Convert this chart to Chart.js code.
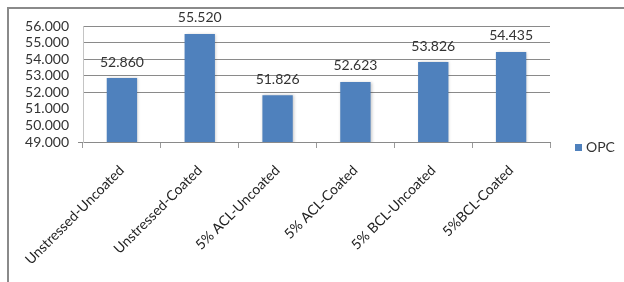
<!DOCTYPE html>
<html lang="en">
<head>
    <meta charset="UTF-8">
    <title>OPC</title>
    <script src="https://cdn.jsdelivr.net/npm/chart.js"></script>
    <style>
        body { margin: 0; background: #fff; }
        .quadro {
            position: relative;
            width: 624px;
            height: 282px;
            overflow: hidden;
        }
        .moldura {
            position: absolute;
            left: 7px; top: 7px;
            width: 700px; height: 273px;
            border: 2px solid #8a8a8a;
        }
        canvas { position: absolute; left: 0; top: 0; }
        .legenda {
            position: absolute;
            left: 575px; top: 138px;
            font: 14px Lato, sans-serif;
            color: #333;
        }
        .legenda span {
            display: inline-block;
            width: 7px; height: 7px;
            background: #4f81bd;
            margin-right: 4px;
            vertical-align: 1px;
        }
    </style>
</head>
<body>
<div class="quadro">
    <div class="moldura"></div>
    <canvas id="grafico" width="624" height="282"></canvas>
    <div class="legenda"><span></span>OPC</div>
</div>

<script>
    // dados
    const categorias = ['Unstressed-Uncoated', 'Unstressed-Coated', '5% ACL-Uncoated',
        '5% ACL-Coated', '5% BCL-Uncoated', '5%BCL-Coated'];
    const valoresOPC = [52.860, 55.520, 51.826, 52.623, 53.826, 54.435];
    const eixoY = { min: 49, max: 56, passo: 1 };
    const linhasVisiveis = [49, 52, 53, 54, 55, 56];

    const fonte = 'Lato, sans-serif';

    // rotulos em cima das barras + sombra leve
    const rotulosBarras = {
        id: 'rotulosBarras',
        beforeDatasetDraw(chart) {
            const ctx = chart.ctx;
            ctx.save();
            ctx.shadowColor = 'rgba(0,0,0,0.22)';
            ctx.shadowBlur = 3;
            ctx.shadowOffsetX = 1;
            ctx.shadowOffsetY = 0;
        },
        afterDatasetDraw(chart) {
            chart.ctx.restore();
        },
        afterDatasetsDraw(chart) {
            const ctx = chart.ctx;
            const meta = chart.getDatasetMeta(0);
            ctx.save();
            ctx.font = '14px ' + fonte;
            ctx.fillStyle = '#333';
            ctx.textAlign = 'center';
            ctx.textBaseline = 'middle';
            meta.data.forEach((barra, i) => {
                ctx.fillText(valoresOPC[i].toFixed(3), barra.x, barra.y - 16);
            });
            ctx.restore();
        }
    };

    new Chart(document.getElementById('grafico'), {
        type: 'bar',
        data: {
            labels: categorias,
            datasets: [{
                label: 'OPC',
                data: valoresOPC,
                backgroundColor: '#4f81bd',
                barPercentage: 0.39,
                categoryPercentage: 1
            }]
        },
        options: {
            responsive: false,
            animation: false,
            layout: { padding: { left: 0, right: 74, top: 26, bottom: 0 } },
            plugins: {
                legend: { display: false },
                tooltip: { enabled: false }
            },
            scales: {
                x: {
                    afterFit(scale) { scale.height = 140; },
                    grid: {
                        drawOnChartArea: false,
                        color: '#9a9a9a',
                        tickLength: 6
                    },
                    border: { color: '#8a8a8a' },
                    ticks: {
                        color: '#222',
                        font: { family: fonte, size: 14 },
                        minRotation: 45,
                        maxRotation: 45,
                        autoSkip: false,
                        padding: 14
                    }
                },
                y: {
                    min: eixoY.min,
                    max: eixoY.max,
                    afterFit(scale) { scale.width = 83; },
                    grid: {
                        color: c => linhasVisiveis.includes(c.tick.value) ? '#8a8a8a' : 'rgba(0,0,0,0)',
                        tickColor: c => c.tick.value === eixoY.min ? '#8a8a8a' : 'rgba(0,0,0,0)',
                        tickLength: 5
                    },
                    border: { color: '#c4c4c4' },
                    ticks: {
                        stepSize: eixoY.passo,
                        autoSkip: false,
                        color: '#333',
                        font: { family: fonte, size: 14 },
                        padding: 9,
                        callback: v => v.toFixed(3)
                    }
                }
            }
        },
        plugins: [rotulosBarras]
    });
</script>
</body>
</html>
